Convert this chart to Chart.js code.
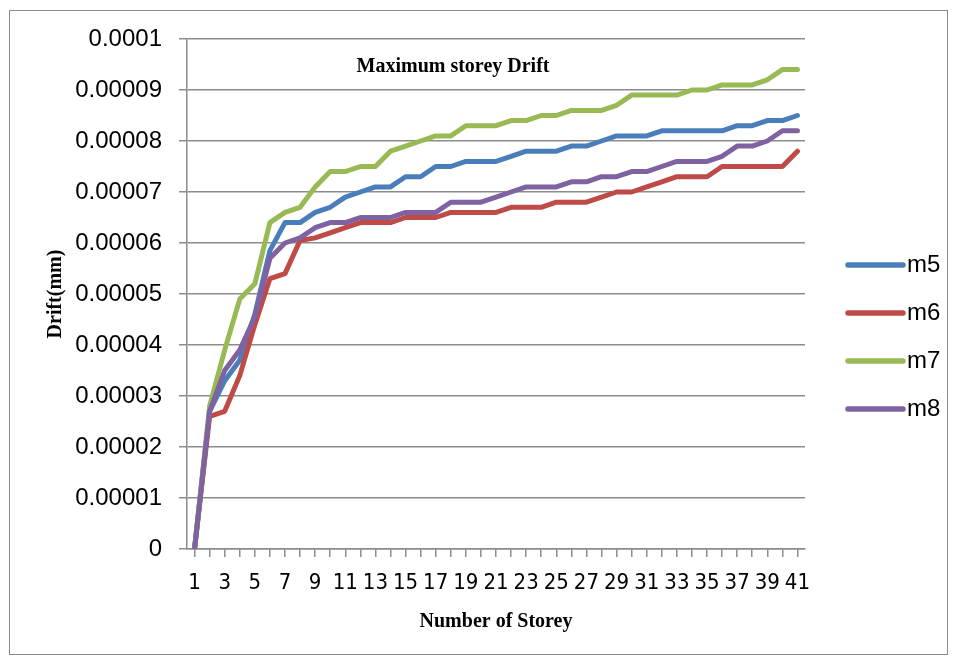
<!DOCTYPE html>
<html>
<head>
<meta charset="utf-8">
<title>Maximum storey Drift</title>
<script src="https://cdn.jsdelivr.net/npm/chart.js@4.4.1/dist/chart.umd.min.js"></script>
<style>
  html, body { margin: 0; padding: 0; background: #ffffff; }
  #chartContainer { position: relative; width: 958px; height: 659px; }
</style>
</head>
<body>
<div id="chartContainer">
  <canvas id="driftChart" width="958" height="659"></canvas>
</div>
<script>
// Storey numbers on the x axis.
const storeys = [
  1, 2, 3, 4, 5, 6, 7, 8, 9, 10, 11, 12, 13, 14, 15, 16, 17, 18, 19, 20, 21,
  22, 23, 24, 25, 26, 27, 28, 29, 30, 31, 32, 33, 34, 35, 36, 37, 38, 39, 40, 41,
];

// Drift values (mm).
const m5 = [
  0, 2.7e-5, 3.3e-5, 3.7e-5, 4.6e-5, 5.85e-5, 6.4e-5, 6.4e-5, 6.6e-5, 6.7e-5,
  6.9e-5, 7.0e-5, 7.1e-5, 7.1e-5, 7.3e-5, 7.3e-5, 7.5e-5, 7.5e-5, 7.6e-5, 7.6e-5,
  7.6e-5, 7.7e-5, 7.8e-5, 7.8e-5, 7.8e-5, 7.9e-5, 7.9e-5, 8.0e-5, 8.1e-5, 8.1e-5,
  8.1e-5, 8.2e-5, 8.2e-5, 8.2e-5, 8.2e-5, 8.2e-5, 8.3e-5, 8.3e-5, 8.4e-5, 8.4e-5,
  8.5e-5,
];
const m6 = [
  0, 2.6e-5, 2.7e-5, 3.4e-5, 4.4e-5, 5.3e-5, 5.4e-5, 6.05e-5, 6.1e-5, 6.2e-5,
  6.3e-5, 6.4e-5, 6.4e-5, 6.4e-5, 6.5e-5, 6.5e-5, 6.5e-5, 6.6e-5, 6.6e-5, 6.6e-5,
  6.6e-5, 6.7e-5, 6.7e-5, 6.7e-5, 6.8e-5, 6.8e-5, 6.8e-5, 6.9e-5, 7.0e-5, 7.0e-5,
  7.1e-5, 7.2e-5, 7.3e-5, 7.3e-5, 7.3e-5, 7.5e-5, 7.5e-5, 7.5e-5, 7.5e-5, 7.5e-5,
  7.8e-5,
];
const m7 = [
  0, 2.8e-5, 3.9e-5, 4.9e-5, 5.2e-5, 6.4e-5, 6.6e-5, 6.7e-5, 7.1e-5, 7.4e-5,
  7.4e-5, 7.5e-5, 7.5e-5, 7.8e-5, 7.9e-5, 8.0e-5, 8.1e-5, 8.1e-5, 8.3e-5, 8.3e-5,
  8.3e-5, 8.4e-5, 8.4e-5, 8.5e-5, 8.5e-5, 8.6e-5, 8.6e-5, 8.6e-5, 8.7e-5, 8.9e-5,
  8.9e-5, 8.9e-5, 8.9e-5, 9.0e-5, 9.0e-5, 9.1e-5, 9.1e-5, 9.1e-5, 9.2e-5, 9.4e-5,
  9.4e-5,
];
const m8 = [
  0, 2.7e-5, 3.5e-5, 3.9e-5, 4.55e-5, 5.7e-5, 6.0e-5, 6.1e-5, 6.3e-5, 6.4e-5,
  6.4e-5, 6.5e-5, 6.5e-5, 6.5e-5, 6.6e-5, 6.6e-5, 6.6e-5, 6.8e-5, 6.8e-5, 6.8e-5,
  6.9e-5, 7.0e-5, 7.1e-5, 7.1e-5, 7.1e-5, 7.2e-5, 7.2e-5, 7.3e-5, 7.3e-5, 7.4e-5,
  7.4e-5, 7.5e-5, 7.6e-5, 7.6e-5, 7.6e-5, 7.7e-5, 7.9e-5, 7.9e-5, 8.0e-5, 8.2e-5,
  8.2e-5,
];

const seriesNames = ["m5", "m6", "m7", "m8"];
const seriesColors = ["#4a7ebb", "#be4b48", "#98b954", "#7e62a1"];

const chartTitle = "Maximum storey Drift";
const xTitle = "Number of Storey";
const yTitle = "Drift(mm)";

const gridColor = "#8c8c8c";
const serif = "'Liberation Serif', 'Times New Roman', serif";

// Title sits inside the plot, and the legend is drawn by hand on the right.
const decorations = {
  id: "decorations",
  afterDraw(chart) {
    const ctx = chart.ctx;
    const area = chart.chartArea;
    ctx.save();

    // Outer frame.
    ctx.strokeStyle = "#8a8a8a";
    ctx.lineWidth = 1;
    ctx.strokeRect(9.5, 10.5, 938, 644);

    ctx.fillStyle = "#000";
    ctx.font = "bold 20px " + serif;
    ctx.textAlign = "center";
    ctx.textBaseline = "alphabetic";
    ctx.fillText(chartTitle, 453, 72);

    ctx.font = "24px 'Liberation Sans', Arial, sans-serif";
    ctx.textAlign = "left";
    ctx.textBaseline = "middle";
    chart.data.datasets.forEach((ds, i) => {
      const y = 265 + i * 48;
      const x0 = area.right + 43;
      ctx.strokeStyle = ds.borderColor;
      ctx.lineWidth = 5.5;
      ctx.lineCap = "round";
      ctx.beginPath();
      ctx.moveTo(x0, y);
      ctx.lineTo(x0 + 55, y);
      ctx.stroke();
      ctx.fillStyle = "#000";
      ctx.fillText(ds.label, x0 + 59, y);
    });
    ctx.restore();
  },
};

const datasets = [m5, m6, m7, m8].map((values, i) => ({
  label: seriesNames[i],
  data: values,
  borderColor: seriesColors[i],
  backgroundColor: seriesColors[i],
  borderWidth: 5,
  borderJoinStyle: "round",
  borderCapStyle: "round",
  pointRadius: 0,
  tension: 0,
  order: 4 - i,
}));

new Chart("driftChart", {
  type: "line",
  data: {
    labels: storeys,
    datasets: datasets,
  },
  options: {
    responsive: false,
    animation: false,
    devicePixelRatio: 1,
    layout: {
      padding: { top: 39, right: 153, bottom: 0, left: 0 },
    },
    plugins: {
      legend: { display: false },
      title: { display: false },
      tooltip: { enabled: false },
    },
    scales: {
      x: {
        offset: true,
        afterFit(scale) {
          scale.height = 110;
        },
        border: { display: true, color: gridColor, width: 1.5 },
        grid: {
          drawOnChartArea: false,
          drawTicks: true,
          tickLength: 8,
          color: gridColor,
          lineWidth: 1.5,
        },
        ticks: {
          autoSkip: false,
          maxRotation: 0,
          minRotation: 0,
          padding: 13,
          color: "#000",
          font: {
            family: "'Liberation Sans Narrow', 'DejaVu Sans Condensed', 'Liberation Sans', sans-serif",
            size: 22,
          },
          callback: function (value, index) {
            return index % 2 === 0 ? this.getLabelForValue(value) : "";
          },
        },
        title: {
          display: true,
          text: xTitle,
          color: "#000",
          font: { family: serif, size: 20, weight: "bold" },
          padding: { top: 0, bottom: 25 },
        },
      },
      y: {
        min: 0,
        max: 0.0001,
        afterFit(scale) {
          scale.width = 187;
        },
        border: { display: true, color: gridColor, width: 1.5 },
        grid: {
          drawOnChartArea: true,
          drawTicks: true,
          tickLength: 8,
          color: gridColor,
          lineWidth: 1.5,
        },
        ticks: {
          stepSize: 0.00001,
          padding: 17,
          color: "#000",
          font: { family: "'Liberation Sans', Arial, sans-serif", size: 24 },
          callback: (value) => String(parseFloat(Number(value).toFixed(5))),
        },
        title: {
          display: true,
          text: yTitle,
          color: "#000",
          font: { family: serif, size: 20, weight: "bold" },
          padding: { top: 44, bottom: 0 },
        },
      },
    },
  },
  plugins: [decorations],
});
</script>
</body>
</html>
